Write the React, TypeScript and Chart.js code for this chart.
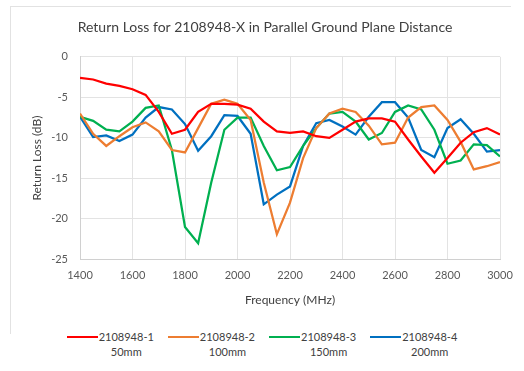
import React, { useEffect, useRef } from "react";
import { Chart, registerables } from "chart.js";

Chart.register(...registerables);

const frequencies = [
  1400, 1450, 1500, 1550, 1600, 1650, 1700, 1750, 1800, 1850, 1900, 1950, 2000,
  2050, 2100, 2150, 2200, 2250, 2300, 2350, 2400, 2450, 2500, 2550, 2600, 2650,
  2700, 2750, 2800, 2850, 2900, 2950, 3000,
];

const series1 = [
  -2.6, -2.8, -3.3, -3.6, -4.0, -4.7, -6.8, -9.5, -9.0, -6.8, -5.8, -5.8, -5.9,
  -6.4, -8.0, -9.2, -9.4, -9.2, -9.8, -10.0, -9.0, -8.0, -7.6, -7.6, -8.0, -10.2,
  -12.3, -14.3, -12.5, -10.6, -9.3, -8.8, -9.6,
];

const series2 = [
  -7.0, -9.5, -11.0, -9.8, -8.7, -8.1, -9.2, -11.5, -11.8, -8.8, -5.8, -5.3, -5.8,
  -7.8, -15.5, -21.9, -18.0, -12.5, -8.8, -7.0, -6.4, -6.8, -8.5, -10.8, -10.6,
  -7.5, -6.2, -6.0, -7.8, -10.5, -13.9, -13.5, -13.0,
];

const series3 = [
  -7.4, -7.9, -9.0, -9.2, -8.0, -6.3, -6.0, -11.5, -21.0, -23.0, -15.5, -9.0, -7.5,
  -7.5, -11.0, -14.0, -13.6, -11.0, -8.8, -7.0, -6.8, -8.0, -10.2, -9.4, -6.8,
  -6.0, -6.5, -9.0, -13.2, -12.8, -10.8, -10.9, -12.3,
];

const series4 = [
  -7.4, -9.9, -9.7, -10.4, -9.6, -7.5, -6.2, -6.5, -8.3, -11.6, -9.8, -7.2, -7.3,
  -9.5, -18.2, -17.0, -16.0, -11.0, -8.2, -7.8, -8.6, -9.6, -7.4, -5.6, -5.6,
  -7.5, -11.5, -12.4, -8.8, -7.7, -9.5, -11.7, -11.5,
];

const seriesNames = ["2108948-1", "2108948-2", "2108948-3", "2108948-4"];
const seriesSub = ["50mm", "100mm", "150mm", "200mm"];
const seriesColors = ["#ff0000", "#ed7d31", "#00b050", "#0070c0"];
const allSeries = [series1, series2, series3, series4];

const chartTitle = "Return Loss for 2108948-X in Parallel Ground Plane Distance";
const xTitle = "Frequency (MHz)";
const yTitle = "Return Loss (dB)";

const FONT = "Lato, 'Open Sans', sans-serif";

export default function App() {
  const canvasRef = useRef<HTMLCanvasElement | null>(null);

  useEffect(() => {
    const ctx = canvasRef.current;
    if (!ctx) return;
    const chart = new Chart(ctx, {
      type: "line",
      data: {
        datasets: allSeries.map((s, i) => ({
          label: seriesNames[i],
          data: frequencies.map((f, j) => ({ x: f, y: s[j] })),
          borderColor: seriesColors[i],
          backgroundColor: seriesColors[i],
          borderWidth: 2.25,
          pointRadius: 0,
          tension: 0,
          fill: false,
        })),
      },
      options: {
        responsive: false,
        animation: false,
        layout: { padding: { left: 30, right: 24, top: 0, bottom: 0 } },
        plugins: {
          legend: { display: false },
          tooltip: { enabled: false },
          title: {
            display: true,
            text: chartTitle,
            color: "#404040",
            font: { family: FONT, size: 14, weight: "normal" },
            padding: { top: 19, bottom: 21 },
          },
        },
        scales: {
          x: {
            type: "linear",
            min: 1400,
            max: 3000,
            ticks: {
              stepSize: 200,
              color: "#595959",
              font: { family: FONT, size: 11 },
              padding: 9,
              maxRotation: 0,
              callback: (v: any) => String(v),
            },
            grid: { color: "#e3e3e3", drawTicks: false, lineWidth: 1 },
            border: { color: "#d0d0d0" },
            title: {
              display: true,
              text: xTitle,
              color: "#404040",
              font: { family: FONT, size: 12 },
              padding: { top: 2, bottom: 0 },
            },
          },
          y: {
            min: -25,
            max: 0,
            afterFit: (scale: any) => {
              scale.width = 50;
            },
            ticks: {
              stepSize: 5,
              color: "#595959",
              font: { family: FONT, size: 11 },
              padding: 12,
            },
            grid: { color: "#e3e3e3", drawTicks: false, lineWidth: 1 },
            border: { color: "#d0d0d0" },
            title: {
              display: true,
              text: yTitle,
              color: "#404040",
              font: { family: FONT, size: 12 },
              padding: { top: 0, bottom: 4 },
            },
          },
        },
      },
    });
    return () => chart.destroy();
  }, []);

  return (
    <div
      style={{
        position: "fixed",
        left: 0,
        top: 0,
        width: 524,
        height: 371,
        background: "#ffffff",
        fontFamily: FONT,
      }}
    >
      <div
        style={{
          position: "absolute",
          left: 10,
          top: 6,
          width: 500,
          height: 327,
          borderTop: "1px solid #e2e2e2",
          borderLeft: "1px solid #e2e2e2",
        }}
      />
      <canvas
        ref={canvasRef}
        width={524}
        height={307}
        style={{ position: "absolute", left: 0, top: 0, width: 524, height: 307 }}
      />
      <div
        style={{
          position: "absolute",
          left: 0,
          top: 329,
          width: 524,
          display: "flex",
          justifyContent: "center",
          gap: 14,
          fontSize: 11,
          color: "#404040",
        }}
      >
        {seriesNames.map((name, i) => (
          <div key={name} style={{ display: "flex", alignItems: "flex-start" }}>
            <div
              style={{
                width: 31,
                height: 2,
                background: seriesColors[i],
                marginTop: 7,
                marginRight: 1,
              }}
            />
            <div style={{ textAlign: "center", lineHeight: "15px" }}>
              <div>{name}</div>
              <div>{seriesSub[i]}</div>
            </div>
          </div>
        ))}
      </div>
    </div>
  );
}
